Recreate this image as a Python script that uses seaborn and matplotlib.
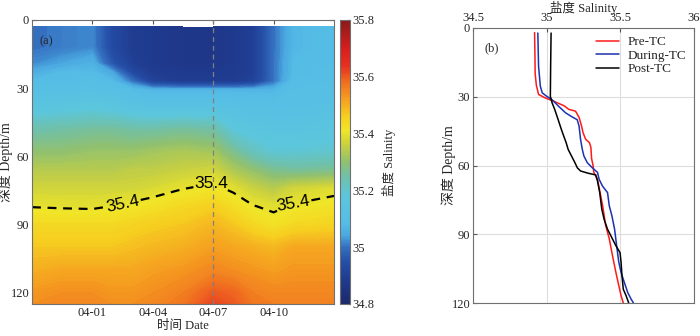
import numpy as np
import pandas as pd
import matplotlib
matplotlib.use("Agg")
import matplotlib.pyplot as plt
from matplotlib.colors import LinearSegmentedColormap
import seaborn as sns

# --- data: (a) salinity section, days relative to 04-01 ---
day_offsets = [-3, -1.5, 0, 1, 2, 3, 4.5, 6, 7, 8, 9, 10, 12]
depth_levels = [3, 12, 19, 23, 27, 31, 38, 48, 58, 66, 74, 82, 90, 100, 110, 120, 125]
sal_grid = [
    [35.00, 35.01, 35.02, 34.93, 34.89, 34.88, 34.87, 34.87, 34.88, 34.90, 35.00, 35.07, 35.09],
    [35.00, 35.01, 35.02, 34.93, 34.89, 34.88, 34.87, 34.87, 34.88, 34.90, 35.00, 35.07, 35.09],
    [35.02, 35.04, 35.06, 34.96, 34.90, 34.88, 34.87, 34.87, 34.88, 34.90, 35.00, 35.08, 35.09],
    [35.05, 35.08, 35.08, 35.04, 34.93, 34.89, 34.88, 34.88, 34.88, 34.90, 35.00, 35.08, 35.10],
    [35.08, 35.09, 35.10, 35.08, 35.00, 34.91, 34.89, 34.89, 34.89, 34.91, 35.00, 35.09, 35.10],
    [35.11, 35.11, 35.12, 35.11, 35.09, 35.07, 35.07, 35.07, 35.07, 35.07, 35.07, 35.10, 35.10],
    [35.15, 35.16, 35.17, 35.16, 35.14, 35.13, 35.13, 35.13, 35.12, 35.11, 35.11, 35.11, 35.12],
    [35.24, 35.25, 35.26, 35.26, 35.25, 35.25, 35.26, 35.25, 35.18, 35.16, 35.15, 35.15, 35.16],
    [35.30, 35.30, 35.31, 35.31, 35.31, 35.32, 35.33, 35.32, 35.27, 35.22, 35.19, 35.19, 35.20],
    [35.34, 35.34, 35.34, 35.34, 35.35, 35.35, 35.36, 35.37, 35.33, 35.30, 35.27, 35.26, 35.27],
    [35.37, 35.37, 35.37, 35.37, 35.37, 35.38, 35.398, 35.41, 35.39, 35.36, 35.34, 35.37, 35.385],
    [35.398, 35.395, 35.393, 35.401, 35.41, 35.42, 35.44, 35.46, 35.43, 35.402, 35.39, 35.405, 35.42],
    [35.44, 35.44, 35.44, 35.44, 35.45, 35.46, 35.47, 35.49, 35.47, 35.44, 35.42, 35.44, 35.45],
    [35.47, 35.47, 35.47, 35.47, 35.48, 35.49, 35.50, 35.52, 35.51, 35.50, 35.49, 35.51, 35.51],
    [35.50, 35.51, 35.51, 35.51, 35.51, 35.52, 35.53, 35.55, 35.54, 35.53, 35.52, 35.53, 35.53],
    [35.53, 35.54, 35.54, 35.53, 35.53, 35.54, 35.56, 35.60, 35.59, 35.56, 35.55, 35.55, 35.55],
    [35.54, 35.55, 35.55, 35.54, 35.54, 35.55, 35.57, 35.62, 35.60, 35.57, 35.56, 35.56, 35.56],
]
date_ticks = [0, 3, 6, 9]
date_labels = ["04-01", "04-04", "04-07", "04-10"]
tc_day = 6

# --- data: (b) profiles ---
pre_depth = [2, 10, 20, 25, 29, 30.5, 32, 34, 35.5, 36.3, 39, 42.8, 45.7, 48.6, 50, 52, 57, 60, 63,
             66, 77.6, 86, 92, 99.4, 106.7, 112.5, 116.8, 120]
pre_sal = [34.918, 34.92, 34.922, 34.93, 34.945, 34.99, 35.05, 35.12, 35.15, 35.196, 35.22, 35.237,
           35.247, 35.265, 35.29, 35.30, 35.305, 35.315, 35.32, 35.345, 35.38, 35.40, 35.425, 35.447,
           35.47, 35.49, 35.505, 35.52]
during_depth = [2.2, 16.7, 25.4, 28.3, 29.8, 31.2, 34.1, 37, 38.8, 40, 42.8, 48.6, 53, 55.9, 58.8, 61,
                63, 66, 69, 71.8, 77.6, 82, 87.8, 95, 102, 106.7, 111, 115.4, 118.3, 120]
during_sal = [34.94, 34.945, 34.957, 34.97, 35.0, 35.035, 35.08, 35.128, 35.173, 35.207, 35.22, 35.23,
              35.242, 35.253, 35.276, 35.31, 35.345, 35.356, 35.379, 35.413, 35.425, 35.443, 35.461,
              35.475, 35.489, 35.505, 35.527, 35.55, 35.573, 35.589]
post_depth = [2.2, 16.7, 29.8, 32.7, 35.6, 40, 44.3, 47.2, 50, 53, 55.9, 58.8, 61, 62.4, 63.4, 64.1,
              66.8, 71.8, 79, 83.5, 87.8, 90.7, 95, 98, 102.3, 108, 114, 116.8, 120]
post_sal = [35.03, 35.027, 35.025, 35.037, 35.055, 35.078, 35.1, 35.116, 35.132, 35.146, 35.169,
            35.192, 35.208, 35.23, 35.283, 35.333, 35.345, 35.36, 35.374, 35.39, 35.413, 35.436,
            35.47, 35.498, 35.505, 35.511, 35.52, 35.539, 35.557]

sns.set_style("ticks")
SERIF = ["Liberation Serif", "Noto Sans CJK SC"]
plt.rcParams["font.family"] = SERIF
plt.rcParams["axes.edgecolor"] = "#707070"
plt.rcParams["xtick.direction"] = "in"
plt.rcParams["ytick.direction"] = "in"

cmap = LinearSegmentedColormap.from_list("sal", [
    (0.00, "#1b2a6a"), (0.08, "#1f3a8e"), (0.15, "#2550a8"), (0.20, "#3570c0"),
    (0.24, "#4aa8e0"), (0.28, "#55bce6"), (0.38, "#5cc6dc"), (0.45, "#70c0a8"),
    (0.50, "#90c070"), (0.56, "#c8d040"), (0.61, "#f0e628"), (0.66, "#f6d020"),
    (0.72, "#f5a020"), (0.78, "#f07020"), (0.84, "#e63020"), (0.90, "#d81e1e"),
    (1.00, "#8a1a1a")])

fig = plt.figure(figsize=(7, 3.36), dpi=100)
ax1 = fig.add_axes([32 / 700, 32 / 336, 302 / 700, 284 / 336])
cax = fig.add_axes([340 / 700, 32 / 336, 10 / 700, 284 / 336])
ax2 = fig.add_axes([473 / 700, 33 / 336, 221 / 700, 275 / 336])

# (a) section
X, Y = np.meshgrid(day_offsets, depth_levels)
Z = np.array(sal_grid)
cf = ax1.contourf(X, Y, Z, levels=np.linspace(34.8, 35.8, 201), cmap=cmap,
                  vmin=34.8, vmax=35.8)
cs = ax1.contour(X, Y, Z, levels=[35.4], colors="k", linewidths=1.6,
                 linestyles=[(0, (4, 3))])
ax1.clabel(cs, fmt="%.1f", fontsize=12.5, inline=True, inline_spacing=3,
           manual=[(1.5, 80), (5.9, 72), (10, 81)])
# y axis is inverted, so fix the label angles by hand
for t, rot in zip(cs.labelTexts, [12, 0, 10]):
    t.set_fontfamily("Liberation Sans")
    t.set_rotation(rot)
ax1.axvline(tc_day, color="#808080", lw=0.9, ls=(0, (4, 3)))
ax1.set_xlim(-3, 12)
ax1.set_ylim(125, 0)
ax1.set_xticks(date_ticks)
ax1.set_xticklabels(date_labels)
ax1.set_yticks([0, 30, 60, 90, 120])
ax1.tick_params(labelsize=9, length=3, pad=2, top=True, right=True, color="#555555")
ax1.set_xlabel("时间 Date", fontsize=9, labelpad=1)
ax1.set_ylabel("深度 Depth/m", fontsize=10)
ax1.yaxis.set_label_coords(-0.062, 0.5)
ax1.text(0.025, 0.925, "(a)", transform=ax1.transAxes, fontsize=9, va="center")

cb = fig.colorbar(cf, cax=cax, ticks=[34.8, 35, 35.2, 35.4, 35.6, 35.8])
cb.ax.set_yticklabels(["34.8", "35", "35.2", "35.4", "35.6", "35.8"])
cb.ax.tick_params(labelsize=9, length=2, pad=2, direction="in")
cb.outline.set_edgecolor("#707070")
cb.set_label("盐度 Salinity", fontsize=9)
cb.ax.yaxis.set_label_coords(4.2, 0.5)

# (b) profiles
df = pd.concat([
    pd.DataFrame({"sal": pre_sal, "depth": pre_depth, "case": "Pre-TC"}),
    pd.DataFrame({"sal": during_sal, "depth": during_depth, "case": "During-TC"}),
    pd.DataFrame({"sal": post_sal, "depth": post_depth, "case": "Post-TC"}),
])
palette = {"Pre-TC": "#ff1a1a", "During-TC": "#1a33b0", "Post-TC": "#000000"}
sns.lineplot(data=df, x="sal", y="depth", hue="case", palette=palette, orient="y",
             sort=False, lw=1.1, ax=ax2)
ax2.set_xlim(34.5, 36)
ax2.set_ylim(120, 0)
ax2.set_xticks([34.5, 35, 35.5, 36])
ax2.set_xticklabels(["34.5", "35", "35.5", "36"])
ax2.set_yticks([0, 30, 60, 90, 120])
ax2.xaxis.tick_top()
ax2.xaxis.set_label_position("top")
ax2.grid(True, color="#dddddd", lw=0.8)
ax2.tick_params(labelsize=9, length=3, pad=2, color="#555555")
ax2.tick_params(axis="x", pad=3)
ax2.set_xlabel("盐度 Salinity", fontsize=9, labelpad=0)
ax2.set_ylabel("深度 Depth/m", fontsize=10)
ax2.yaxis.set_label_coords(-0.075, 0.5)
ax2.text(0.05, 0.925, "(b)", transform=ax2.transAxes, fontsize=9, va="center")
leg = ax2.legend(loc="upper right", frameon=False, fontsize=9.5, handlelength=1.8,
                 labelspacing=0.1, borderaxespad=0.2, handletextpad=0.6)
leg.set_title(None)

fig.savefig("out.png", dpi=100)
